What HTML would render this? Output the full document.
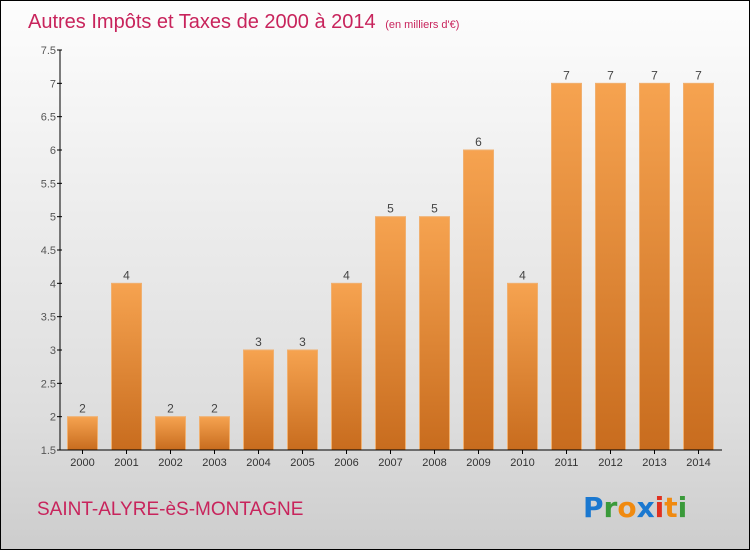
<!DOCTYPE html>
<html><head><meta charset="utf-8"><style>
body{margin:0}
#c{position:relative;width:748px;height:548px;border:1px solid #000;background:linear-gradient(#fdfdfd,#f0f0f0 30%,#dedede 75%,#cdcdcd);font-family:"Liberation Sans",sans-serif;overflow:hidden}
</style></head><body>
<div id="c">
<svg id="s" width="748" height="548">
<defs><linearGradient id="g" x1="0" y1="0" x2="0" y2="1"><stop offset="0" stop-color="#f6a350"/><stop offset="1" stop-color="#c86c1e"/></linearGradient></defs>
<text x="27" y="27" font-size="20" fill="#c8245c">Autres Impôts et Taxes de 2000 à 2014 <tspan font-size="11" dx="4">(en milliers d'€)</tspan></text>
<text x="36" y="514" font-size="19" fill="#c8245c">SAINT-ALYRE-èS-MONTAGNE</text>
<g font-size="28" font-weight="bold" font-family="'DejaVu Sans',sans-serif">
<text x="582" y="516"><tspan fill="#1a78d0">P</tspan><tspan fill="#3a9a3a">r</tspan><tspan fill="#f08a10">o</tspan><tspan fill="#1a78d0">x</tspan><tspan fill="#e03020">i</tspan><tspan fill="#f08a10">t</tspan><tspan fill="#3a9a3a">i</tspan></text></g>
<g id="bars"></g><g id="axes"></g>
</svg></div>
<script>
const years=["2000","2001","2002","2003","2004","2005","2006","2007","2008","2009","2010","2011","2012","2013","2014"];
const values=[2,4,2,2,3,3,4,5,5,6,4,7,7,7,7];
const yTicks=["1.5","2","2.5","3","3.5","4","4.5","5","5.5","6","6.5","7","7.5"];
const ns="http://www.w3.org/2000/svg";
const yMin=1.5,yMax=7.5,top_=49,bot=449,axX=59;
const y=v=>bot-(v-yMin)/(yMax-yMin)*(bot-top_);
const x=i=>81.5+i*44;
function mk(t,a,p){const e=document.createElementNS(ns,t);for(const k in a)e.setAttribute(k,a[k]);p.appendChild(e);return e;}
const B=document.getElementById('bars'),A=document.getElementById('axes');
years.forEach((yr,i)=>{
 const r=mk('rect',{x:x(i)-15,y:y(values[i]),width:30,height:bot-y(values[i]),fill:'url(#g)',stroke:'#f0b070','stroke-width':1},B);
 
 
 const t=mk('text',{x:x(i),y:y(values[i])-4,'text-anchor':'middle','font-size':12,fill:'#444'},B);t.textContent=values[i];
 
 
 const xl=mk('text',{x:x(i),y:bot+16,'text-anchor':'middle','font-size':11,fill:'#333'},A);xl.textContent=yr;
 
 
 mk('line',{x1:x(i),x2:x(i),y1:bot,y2:bot+4,stroke:'#000'},A);
});
yTicks.forEach(v=>{
 const yy=y(parseFloat(v));
 mk('line',{x1:axX-3,x2:axX+2,y1:yy,y2:yy,stroke:'#000'},A);
 const t=mk('text',{x:axX-4,y:yy+4,'text-anchor':'end','font-size':11,fill:'#555'},A);t.textContent=v;
 
 
});
const ya=mk('line',{x1:axX,x2:axX,y1:top_,y2:bot,stroke:'#000'},A);


const xa=mk('line',{x1:axX,x2:721,y1:bot,y2:bot,stroke:'#000'},A);


</script>
</body></html>
